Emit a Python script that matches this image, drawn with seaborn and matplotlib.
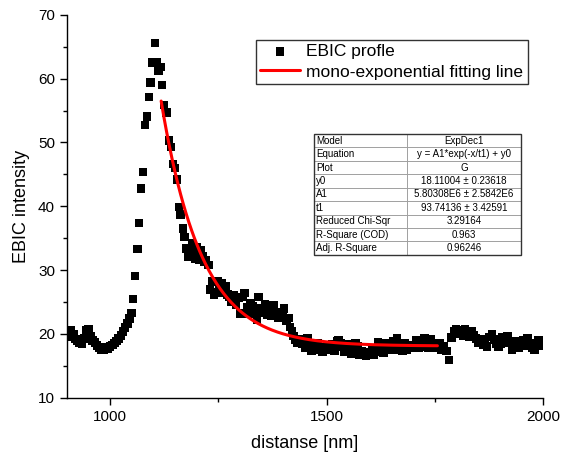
import numpy as np
import pandas as pd
import seaborn as sns
import matplotlib.pyplot as plt
from matplotlib.ticker import MultipleLocator

# EBIC profile
distance = [900, 905, 910, 915, 920, 925, 930, 935, 940, 945, 950, 955, 960, 965, 970, 975,
            980, 985, 990, 995, 1000, 1005, 1010, 1015, 1020, 1025, 1030, 1035, 1040, 1045,
            1049, 1053, 1058, 1063, 1067, 1071, 1076, 1081, 1085, 1090, 1094, 1098, 1104,
            1108, 1112, 1116, 1120, 1125, 1130, 1136, 1141, 1145, 1150, 1155, 1159, 1163,
            1168, 1172, 1177, 1181, 1185, 1189, 1193, 1197, 1201, 1205, 1209, 1213, 1217,
            1222, 1227, 1231, 1235, 1240, 1244, 1248, 1253, 1258, 1262, 1266, 1271, 1276,
            1281, 1286, 1291, 1296, 1301, 1306, 1311, 1316, 1320, 1325, 1330, 1335, 1339,
            1343, 1348, 1353, 1358, 1363, 1368, 1373, 1378, 1383, 1388, 1393, 1398, 1402,
            1407, 1412, 1416, 1420, 1424, 1428, 1433, 1438, 1443, 1448, 1452, 1456, 1460,
            1465, 1470, 1475, 1480, 1486, 1491, 1496, 1501, 1505, 1509, 1514, 1519, 1524,
            1528, 1532, 1537, 1542, 1547, 1552, 1557, 1562, 1567, 1571, 1576, 1581, 1586,
            1591, 1596, 1600, 1605, 1609, 1614, 1619, 1623, 1628, 1632, 1637, 1641, 1644,
            1649, 1654, 1658, 1663, 1667, 1671, 1676, 1681, 1686, 1691, 1696, 1702, 1707,
            1712, 1716, 1721, 1726, 1731, 1736, 1740, 1745, 1750, 1756, 1761, 1766, 1771,
            1777, 1783, 1788, 1794, 1799, 1804, 1810, 1815, 1820, 1825, 1830, 1835, 1840,
            1845, 1850, 1856, 1861, 1866, 1871, 1876, 1882, 1887, 1892, 1897, 1902, 1907,
            1913, 1918, 1923, 1928, 1933, 1938, 1944, 1949, 1954, 1959, 1964, 1970, 1975,
            1980, 1985, 1990, 1995, 2000]
intensity = [20.3, 19.6, 20.5, 19.9, 19.2, 19.0, 18.6, 18.4, 19.3, 20.5, 20.8, 19.7, 19.0, 18.7,
             18.2, 17.8, 17.6, 17.6, 17.9, 17.7, 18.0, 18.3, 18.6, 18.9, 19.3, 19.8, 20.4, 21.0,
             21.6, 22.4, 23.3, 25.5, 29.1, 33.3, 37.4, 42.8, 45.4, 52.7, 54.1, 57.1, 59.4, 62.5,
             65.6, 62.5, 61.2, 61.8, 59.0, 55.9, 54.7, 50.3, 49.3, 46.6, 46.0, 44.2, 39.9, 38.7,
             36.5, 35.2, 33.4, 32.1, 33.0, 34.2, 32.6, 31.8, 33.5, 31.6, 33.1, 32.2, 31.3, 31.6,
             30.8, 27.0, 28.2, 26.1, 26.5, 28.2, 27.2, 27.9, 26.5, 27.4, 26.2, 25.8, 25.0, 26.1,
             24.6, 25.6, 23.2, 25.8, 26.4, 24.2, 23.2, 24.8, 24.3, 23.5, 22.2, 25.8, 24.0, 23.3,
             24.7, 23.0, 24.2, 22.8, 24.5, 23.4, 22.5, 22.7, 23.2, 24.0, 22.0, 22.5, 21.1, 20.4,
             19.7, 19.1, 18.6, 19.2, 18.4, 18.8, 17.9, 19.3, 18.0, 17.4, 18.2, 17.6, 18.5, 17.8,
             17.2, 17.9, 18.3, 17.5, 17.8, 18.4, 17.3, 18.9, 19.0, 18.5, 18.0, 17.2, 17.5, 18.4,
             16.9, 17.7, 18.6, 18.0, 16.8, 17.3, 17.0, 16.6, 17.1, 16.9, 17.5, 16.7, 17.2, 18.7,
             17.9, 18.2, 17.0, 18.6, 17.5, 17.8, 18.3, 18.8, 17.6, 19.3, 18.4, 18.0, 17.4, 18.6,
             17.5, 18.2, 17.9, 18.3, 19.0, 17.9, 18.7, 18.5, 19.3, 18.0, 17.8, 19.1, 18.6, 18.2,
             17.8, 18.6, 17.6, 18.0, 17.3, 15.9, 19.4, 20.4, 20.8, 20.0, 20.6, 19.8, 20.7, 20.1,
             19.5, 20.4, 19.8, 19.3, 18.6, 19.1, 18.3, 18.6, 18.0, 19.5, 20.0, 19.1, 18.4, 18.0,
             18.5, 19.4, 18.8, 19.6, 18.7, 17.6, 18.0, 18.9, 17.9, 18.5, 19.0, 18.2, 19.3, 18.6,
             17.8, 17.5, 18.2, 19.0, 18.5, 18.2]

# fit parameters from the Origin table
y0 = 18.11004
A1 = 5.80308e6
t1 = 93.74136
fit_start, fit_end = 1118, 1756

table_rows = [
    ["Model", "ExpDec1"],
    ["Equation", "y = A1*exp(-x/t1) + y0"],
    ["Plot", "G"],
    ["y0", "18.11004 \u00b1 0.23618"],
    ["A1", "5.80308E6 \u00b1 2.5842E6"],
    ["t1", "93.74136 \u00b1 3.42591"],
    ["Reduced Chi-Sqr", "3.29164"],
    ["R-Square (COD)", "0.963"],
    ["Adj. R-Square", "0.96246"],
]

df = pd.DataFrame({"distance": distance, "intensity": intensity})
fit_x = np.linspace(fit_start, fit_end, 300)
fit_df = pd.DataFrame({"distance": fit_x, "intensity": A1 * np.exp(-fit_x / t1) + y0})

sns.set_style("ticks")
plt.rcParams["font.family"] = ["Liberation Sans", "DejaVu Sans"]
plt.rcParams.update({"text.color": "black", "axes.labelcolor": "black",
                     "xtick.color": "black", "ytick.color": "black"})

fig = plt.figure(figsize=(5.61, 4.62), dpi=100)
ax = fig.add_axes([0.119, 0.139, 0.849, 0.829])

sns.scatterplot(data=df, x="distance", y="intensity", marker="s", s=38, color="black",
                edgecolor="none", label="EBIC profle", ax=ax, zorder=2)
sns.lineplot(data=fit_df, x="distance", y="intensity", color="red", linewidth=2.2,
             label="mono-exponential fitting line", ax=ax, zorder=3)

ax.set_xlim(900, 2000)
ax.set_ylim(10, 70)
ax.xaxis.set_major_locator(MultipleLocator(500))
ax.xaxis.set_minor_locator(MultipleLocator(250))
ax.yaxis.set_major_locator(MultipleLocator(10))
ax.yaxis.set_minor_locator(MultipleLocator(5))
ax.tick_params(which="major", length=5, width=1, labelsize=11, color="black")
ax.tick_params(which="minor", length=3, width=1, color="black")
for s in ["left", "bottom"]:
    ax.spines[s].set_linewidth(1)
    ax.spines[s].set_color("black")
sns.despine(ax=ax)

ax.set_xlabel("distanse [nm]", fontsize=13, labelpad=8)
ax.set_ylabel("EBIC intensity", fontsize=13, labelpad=6)

leg = ax.legend(loc="upper left", bbox_to_anchor=(0.397, 0.935), fontsize=12.5,
                frameon=True, fancybox=False, edgecolor="black", borderpad=0.25,
                handlelength=2.3, handletextpad=0.35, labelspacing=0.3, borderaxespad=0)
leg.get_frame().set_linewidth(1)

tbl_box = [0.519, 0.373, 0.435, 0.316]
tbl = ax.table(cellText=table_rows, colWidths=[0.447, 0.553], bbox=tbl_box, zorder=5)
tbl.auto_set_font_size(False)
tbl.set_fontsize(7)
for (r, c), cell in tbl.get_celld().items():
    cell.set_edgecolor("#999999")
    cell.set_linewidth(0.6)
    cell.get_text().set_ha("left" if c == 0 else "center")
    cell.PAD = 0.02
ax.add_patch(plt.Rectangle(tbl_box[:2], tbl_box[2], tbl_box[3], transform=ax.transAxes,
                           fill=False, edgecolor="#333333", linewidth=1, zorder=6))

fig.savefig("out.png", dpi=100)
